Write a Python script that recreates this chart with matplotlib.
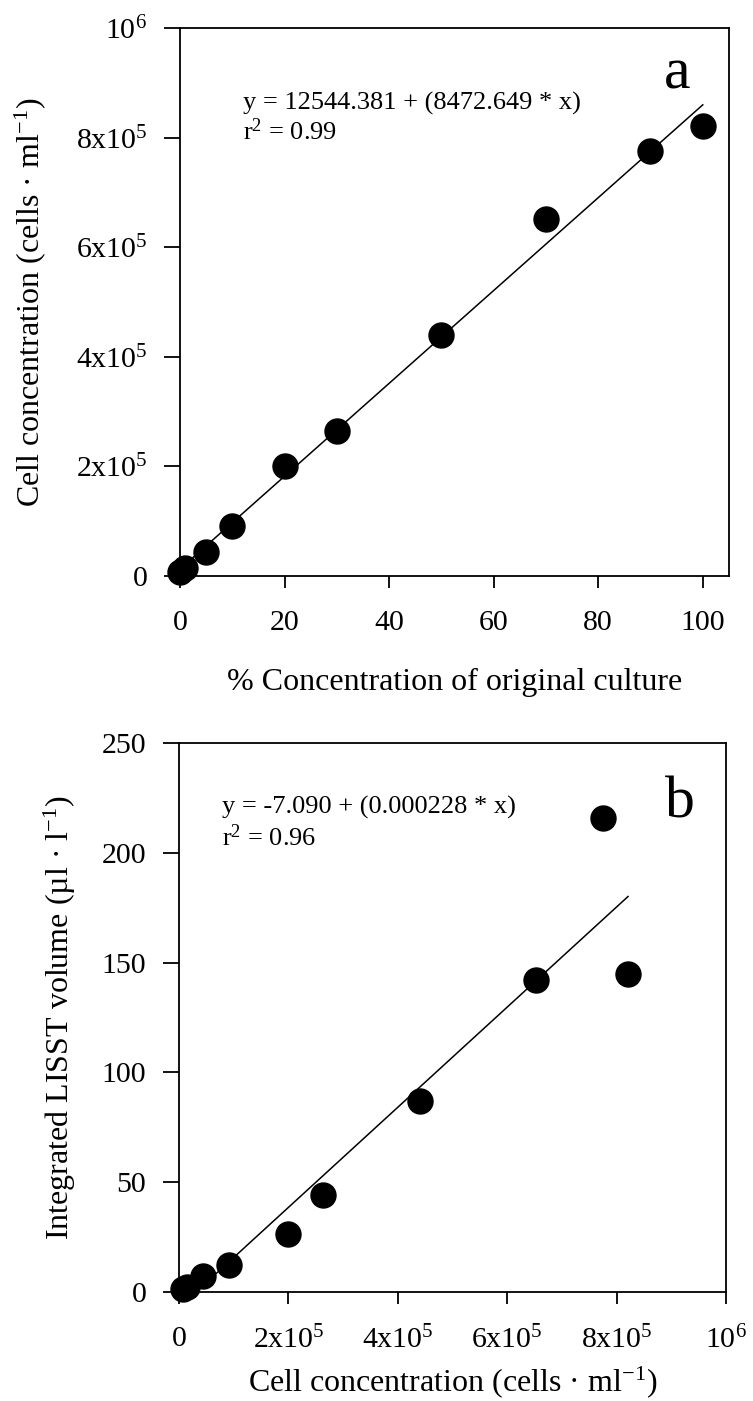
import matplotlib
matplotlib.use("Agg")
import matplotlib.pyplot as plt
import numpy as np

plt.rcParams['font.family'] = ['Liberation Serif', 'DejaVu Serif']
plt.rcParams['mathtext.fontset'] = 'custom'
plt.rcParams['mathtext.rm'] = 'Liberation Serif'
plt.rcParams['mathtext.it'] = 'Liberation Serif:italic'

# panel a: % of original culture vs counted cells
pct = [0, 1, 5, 10, 20, 30, 50, 70, 90, 100]
cells = [7000, 15000, 44000, 92000, 200000, 264000, 440000, 652000, 776000, 821000]
# panel b: cell concentration vs integrated LISST volume
vol = [1.5, 2.3, 7.3, 12.3, 26.5, 44, 87, 142, 216, 145]

a_int, a_slope = 12544.381, 8472.649
b_int, b_slope = -7.090, 0.000228

sci_ticks = [0, 2e5, 4e5, 6e5, 8e5, 1e6]
sci_labels = ['0', '2x10$^5$', '4x10$^5$', '6x10$^5$', '8x10$^5$', '10$^6$']
pct_ticks = [0, 20, 40, 60, 80, 100]
vol_ticks = [0, 50, 100, 150, 200, 250]

fig = plt.figure(figsize=(7.53, 14.01), dpi=100)
ax1 = fig.add_axes([0.239, 0.5889, 0.729, 0.3911])
ax2 = fig.add_axes([0.2377, 0.0778, 0.7264, 0.3919])

def style(ax):
    for s in ax.spines.values():
        s.set_linewidth(1.3)
    ax.tick_params(axis='both', direction='out', width=1.3, labelsize=21.5)
    ax.tick_params(axis='y', length=11.5, pad=12)
    ax.tick_params(axis='x', length=8.6, pad=16)

lab_fs = 23
txt_fs = 19

# --- a
xs = np.array([min(pct), max(pct)])
ax1.plot(xs, a_int + a_slope * xs, color='black', lw=1.1)
ax1.plot(pct, cells, 'o', color='black', ms=18, clip_on=False, zorder=3)
ax1.set_xlim(0, 105)
ax1.set_ylim(0, 1e6)
ax1.set_xticks(pct_ticks)
ax1.set_yticks(sci_ticks)
ax1.set_yticklabels(sci_labels)
style(ax1)
ax1.set_xlabel('% Concentration of original culture', fontsize=lab_fs, va='baseline')
ax1.xaxis.set_label_coords(0.5, -0.208)
ax1.set_ylabel('Cell concentration (cells · ml$^{-1}$)', fontsize=lab_fs, va='center')
ax1.yaxis.set_label_coords(-0.273, 0.5)
ax1.text(0.115, 0.852, 'y = 12544.381 + (8472.649 * x)', transform=ax1.transAxes,
         fontsize=txt_fs, va='baseline')
ax1.text(0.115, 0.795, 'r$^2$ = 0.99', transform=ax1.transAxes,
         fontsize=txt_fs, va='baseline')
ax1.text(0.905, 0.89, 'a', transform=ax1.transAxes, fontsize=43,
         ha='center', va='baseline')

# --- b
xs = np.array([min(cells), max(cells)])
ax2.plot(xs, b_int + b_slope * xs, color='black', lw=1.1)
ax2.plot(cells, vol, 'o', color='black', ms=18, clip_on=False, zorder=3)
ax2.set_xlim(0, 1e6)
ax2.set_ylim(0, 250)
ax2.set_xticks(sci_ticks)
ax2.set_xticklabels(sci_labels)
ax2.set_yticks(vol_ticks)
style(ax2)
ax2.set_xlabel('Cell concentration (cells · ml$^{-1}$)', fontsize=lab_fs, va='baseline')
ax2.xaxis.set_label_coords(0.5, -0.180)
ax2.set_ylabel('Integrated LISST volume (µl · l$^{-1}$)', fontsize=lab_fs, va='center')
ax2.yaxis.set_label_coords(-0.2175, 0.5)
ax2.text(0.079, 0.871, 'y = -7.090 + (0.000228 * x)', transform=ax2.transAxes,
         fontsize=txt_fs, va='baseline')
ax2.text(0.079, 0.812, 'r$^2$ = 0.96', transform=ax2.transAxes,
         fontsize=txt_fs, va='baseline')
ax2.text(0.915, 0.865, 'b', transform=ax2.transAxes, fontsize=43,
         ha='center', va='baseline')

fig.savefig('out.png', dpi=100)
